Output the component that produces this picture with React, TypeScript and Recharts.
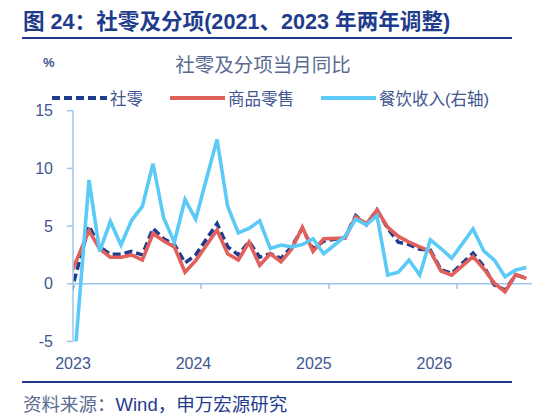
import { CartesianGrid, Line, LineChart, ReferenceLine, XAxis, YAxis } from "recharts";

// 月份（1 月数据缺失，12 月直接连到 2 月）
const months = [
  "2022-12",
  "2023-02", "2023-03", "2023-04", "2023-05", "2023-06", "2023-07", "2023-08", "2023-09", "2023-10", "2023-11", "2023-12",
  "2024-02", "2024-03", "2024-04", "2024-05", "2024-06", "2024-07", "2024-08", "2024-09", "2024-10", "2024-11", "2024-12",
  "2025-02", "2025-03", "2025-04", "2025-05", "2025-06", "2025-07", "2025-08", "2025-09", "2025-10", "2025-11", "2025-12",
  "2026-02", "2026-03", "2026-04", "2026-05", "2026-06", "2026-07",
];

const sheLing = [
  -1.8,
  5.0, 3.2, 2.55, 2.55, 2.8, 2.5, 4.8, 3.9, 3.4, 1.8, 2.5,
  5.2, 3.2, 2.5, 3.65, 2.3, 2.6, 2.2, 3.2, 4.8, 3.0, 3.7,
  4.0, 5.9, 5.1, 6.4, 4.8, 3.6, 3.4, 3.0, 2.9, 1.2, 0.9,
  2.65, 1.5, -0.1, -0.55, 0.75, 0.5,
];

const shangPin = [
  0.2,
  4.6, 3.0, 2.3, 2.3, 2.5, 2.05, 4.35, 3.7, 3.2, 1.0, 2.0,
  4.65, 2.6, 2.05, 3.6, 1.6, 2.6, 1.9, 3.0, 4.9, 2.8, 3.9,
  3.95, 5.8, 5.2, 6.4, 4.9, 4.1, 3.6, 3.2, 2.8, 1.1, 0.75,
  2.35, 1.3, 0.05, -0.7, 0.8, 0.45,
];

const canYin = [
  -14.1,
  9.0, 2.8, 5.4, 3.35, 5.5, 6.7, 10.4, 5.7, 3.6, 7.3, 5.6,
  12.5, 6.7, 4.4, 4.8, 5.45, 3.05, 3.35, 3.2, 3.4, 3.9, 2.6,
  4.1, 5.6, 5.1, 5.9, 0.75, 1.0, 2.05, 0.75, 3.8, 3.05, 2.2,
  4.75, 2.85, 2.05, 0.6, 1.2, 1.4,
];

const yearTicks = [0, 12, 24, 36];
const yearLabels = ["2023", "2024", "2025", "2026"];
const yTicks = [-5, 0, 5, 10, 15];

const NAVY = "#1f3c8c";
const RED = "#e2605b";
const SKY = "#5ccaf6";
const AXIS_LINE = "#9cc6ea";
const LABEL = "#3f5690";
const FONT = "'Liberation Sans', Arial, 'Noto Sans CJK SC', sans-serif";

const series = [
  { key: "a", name: "社零", color: NAVY, dash: "8 4", axis: "left" },
  { key: "b", name: "商品零售", color: RED, dash: undefined, axis: "left" },
  { key: "c", name: "餐饮收入(右轴)", color: SKY, dash: undefined, axis: "right" },
];

// month string -> position on a month axis starting 2023-01 (mid-month)
const monthPos = (m: string) => {
  const [y, mo] = m.split("-").map(Number);
  return (y - 2023) * 12 + (mo - 1) + 0.5;
};

const data = months.map((m, i) => ({
  t: monthPos(m),
  a: sheLing[i],
  b: shangPin[i],
  c: canYin[i],
}));

function LegendRow() {
  return (
    <div style={{ position: "absolute", left: 52, top: 87, display: "flex", alignItems: "center", height: 22 }}>
      {series.map((s, i) => (
        <div key={s.key} style={{ display: "flex", alignItems: "center", marginRight: i < series.length - 1 ? 27 : 0 }}>
          <svg width={55} height={8}>
            <line x1={0} y1={4} x2={55} y2={4} stroke={s.color} strokeWidth={4} strokeDasharray={s.dash} />
          </svg>
          <span style={{ marginLeft: 3, fontSize: 16.5, color: LABEL, fontFamily: FONT }}>{s.name}</span>
        </div>
      ))}
    </div>
  );
}

export default function App() {
  return (
    <div style={{ position: "absolute", left: 0, top: 0, width: 555, height: 418, background: "#fff", fontFamily: FONT }}>
      <div style={{ position: "absolute", left: 23, top: 9, fontSize: 21.6, fontWeight: 700, color: NAVY, lineHeight: "26px", whiteSpace: "nowrap" }}>
        图 24：社零及分项(2021、2023 年两年调整)
      </div>
      <div style={{ position: "absolute", left: 22, top: 36.5, width: 490, height: 2.5, background: NAVY }} />
      <div style={{ position: "absolute", left: 43, top: 55, fontSize: 13, lineHeight: "16px", color: LABEL, fontWeight: 700 }}>%</div>
      <div style={{ position: "absolute", left: 113, top: 53, width: 300, textAlign: "center", fontSize: 19.5, lineHeight: "24px", color: "#5a6b90" }}>
        社零及分项当月同比
      </div>
      <LegendRow />

      <div style={{ position: "absolute", left: 0, top: 0 }}>
        <LineChart width={555} height={418} data={data} margin={{ top: 110.7, right: 23.3, bottom: 46.6, left: 0 }}>
          <CartesianGrid stroke="none" />
          <XAxis xAxisId="data" dataKey="t" type="number" domain={[0, 43]} allowDataOverflow hide height={0} />
          <XAxis
            xAxisId="lbl"
            dataKey="t"
            type="number"
            domain={[0, 45.7]}
            allowDataOverflow
            ticks={yearTicks}
            tickFormatter={(v: number) => yearLabels[yearTicks.indexOf(v)] ?? ""}
            axisLine={false}
            tickLine={false}
            tickMargin={10}
            height={30}
            tick={{ fontSize: 16, fill: LABEL, fontFamily: FONT }}
          />
          <YAxis
            yAxisId="left"
            domain={[-5, 15]}
            ticks={yTicks}
            allowDataOverflow
            width={73}
            tickSize={6}
            tickMargin={14}
            axisLine={{ stroke: AXIS_LINE, strokeWidth: 1.5 }}
            tickLine={{ stroke: AXIS_LINE, strokeWidth: 1.5 }}
            tick={{ fontSize: 16, fill: LABEL, fontFamily: FONT }}
          />
          <YAxis yAxisId="right" orientation="right" domain={[-5, 15]} allowDataOverflow hide width={0} />
          <ReferenceLine xAxisId="data" yAxisId="left" y={0} stroke={AXIS_LINE} strokeWidth={1.5} />
          {yearTicks.slice(1).map((t) => (
            <ReferenceLine
              key={t}
              xAxisId="data"
              yAxisId="left"
              segment={[{ x: t, y: 0 }, { x: t, y: -0.45 }]}
              stroke={AXIS_LINE}
              strokeWidth={1.5}
            />
          ))}
          {series.map((s) => (
            <Line
              key={s.key}
              xAxisId="data"
              yAxisId={s.axis}
              dataKey={s.key}
              name={s.name}
              type="linear"
              stroke={s.color}
              strokeWidth={3.6}
              strokeDasharray={s.dash}
              dot={false}
              activeDot={false}
              isAnimationActive={false}
            />
          ))}
        </LineChart>
      </div>

      <div style={{ position: "absolute", left: 22, top: 380.5, width: 490, height: 2.5, background: NAVY }} />
      <div style={{ position: "absolute", left: 23, top: 394, fontSize: 18.5, lineHeight: "22px", whiteSpace: "nowrap" }}>
        <span style={{ color: "#5a6b90" }}>资料来源：</span>
        <span style={{ color: NAVY }}>Wind，申万宏源研究</span>
      </div>
    </div>
  );
}
